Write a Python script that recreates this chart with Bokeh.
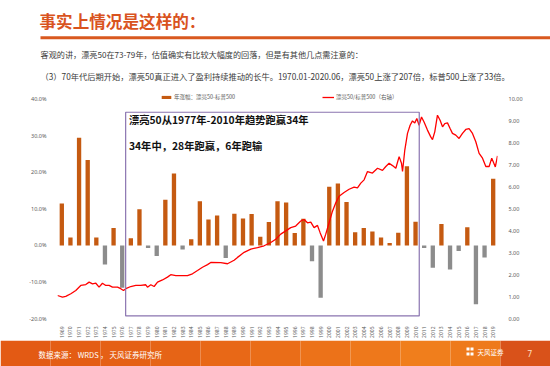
import math
from bokeh.plotting import figure
from bokeh.models import (Range1d, LinearAxis, FixedTicker, PrintfTickFormatter,
                          Legend, LegendItem, BoxAnnotation, Label)
from bokeh.layouts import column
from bokeh.embed import file_html
from bokeh.resources import INLINE
from bokeh.core.properties import value

# ---------------- data ----------------
years = list(range(1969, 2020))
excess_return = [11.5, 2.2, 29.5, 23.4, 2.2, -5.2, 4.8, -11.6, 2.0, 9.9,
                 -0.7, -2.9, 12.5, 19.7, -1.1, 1.7, 12.1, 7.1, 8.2, -3.4,
                 8.7, 7.4, 8.6, 2.4, 6.4, 12.1, 11.8, 3.4, 7.3, -4.3,
                 -14.3, 16.1, 17.0, 11.9, 3.6, 4.8, 3.8, 2.2, 0.7, 3.5,
                 21.7, 6.5, -0.7, -6.1, 5.9, -6.6, -1.5, 5.0, -16.1, -3.3, 18.3]

ratio_dates = [1970.00, 1970.57, 1970.95, 1971.53, 1972.10, 1972.67, 1973.25, 1973.63, 1974.02, 1974.40,
               1974.77, 1975.16, 1975.54, 1975.92, 1976.31, 1976.89, 1977.26, 1977.57, 1977.84, 1978.41,
               1978.99, 1979.56, 1980.13, 1980.33, 1980.71, 1981.09, 1981.48, 1982.05, 1982.62, 1983.00,
               1983.58, 1984.15, 1984.92, 1985.49, 1986.07, 1986.64, 1987.22, 1987.59, 1988.74, 1989.51,
               1990.27, 1990.66, 1991.42, 1992.19, 1992.95, 1993.71, 1994.48, 1995.05, 1995.62, 1996.20,
               1996.77, 1997.34, 1997.92, 1998.30, 1998.69, 1999.07, 1999.45, 1999.84, 2000.14, 2000.53,
               2000.79, 2001.17, 2001.56, 2001.94, 2002.32, 2002.89, 2003.47, 2004.04, 2004.43, 2004.81,
               2005.19, 2005.58, 2006.15, 2006.73, 2007.30, 2007.68, 2008.06, 2008.45, 2008.83, 2009.21,
               2009.48, 2009.60, 2009.86, 2010.17, 2010.47, 2010.74, 2011.01, 2011.24, 2011.50, 2011.78,
               2012.07, 2012.46, 2012.84, 2013.04, 2013.30, 2013.61, 2013.91, 2014.19, 2014.45, 2014.76,
               2015.06, 2015.33, 2015.71, 2016.09, 2016.48, 2016.86, 2017.24, 2017.63, 2018.01, 2018.39,
               2018.78, 2019.16, 2019.54, 2019.84, 2020.08, 2020.25, 2020.50]
ratio_values = [1.05, 0.98, 1.01, 1.13, 1.28, 1.51, 1.55, 1.66, 1.58, 1.61,
                1.43, 1.61, 1.51, 1.51, 1.43, 1.43, 1.36, 1.28, 1.36, 1.46,
                1.51, 1.51, 1.54, 1.43, 1.54, 1.46, 1.66, 1.76, 1.89, 2.00,
                1.96, 1.96, 1.96, 2.04, 2.19, 2.34, 2.46, 2.56, 2.55, 2.50,
                2.66, 2.79, 3.02, 3.17, 3.24, 3.32, 3.47, 3.62, 3.85, 4.00,
                4.15, 4.22, 4.45, 4.52, 4.37, 4.40, 4.15, 4.25, 3.92, 3.54,
                3.85, 4.37, 4.90, 5.28, 5.58, 5.75, 5.90, 6.00, 5.96, 6.18,
                6.33, 6.71, 6.64, 6.86, 6.76, 6.94, 7.09, 6.98, 6.86, 7.39,
                7.09, 6.71, 7.69, 8.45, 8.82, 9.02, 8.93, 9.13, 8.82, 9.20,
                8.97, 8.60, 8.29, 8.17, 8.52, 9.28, 9.05, 8.75, 8.90, 8.93,
                8.67, 8.45, 8.37, 8.22, 8.45, 8.63, 8.67, 8.45, 8.07, 7.54,
                7.32, 6.94, 6.94, 7.32, 7.09, 6.92, 7.42]

left_ticks = [-20, -10, 0, 10, 20, 30, 40]
right_ticks = [0, 1, 2, 3, 4, 5, 6, 7, 8, 9, 10]

title_text = "事实上情况是这样的："
line1_text = "客观的讲，漂亮50在73-79年，估值确实有比较大幅度的回落，但是有其他几点需注意的："
line2_text = "（3）70年代后期开始，漂亮50真正进入了盈利持续推动的长牛。1970.01-2020.06，漂亮50上涨了207倍，标普500上涨了33倍。"
box_line1 = "漂亮50从1977年-2010年趋势跑赢34年"
box_line2 = "34年中，28年跑赢，6年跑输"
legend_bar = "年涨幅：漂亮50-标普500"
legend_line = "漂亮50/标普500（右轴）"
source_text = "数据来源：  WRDS ，  天风证券研究所"

CJK = "Noto Sans CJK SC"
ORANGE = "#C55A11"
GRAY = "#8C8C8C"

# ---------------- top (title + text) ----------------
top = figure(width=550, height=86, x_range=Range1d(0, 550), y_range=Range1d(86, 0),
             toolbar_location=None, output_backend="svg", title=None,
             x_axis_location=None, y_axis_location=None, min_border=0)
top.frame_align = False
top.grid.visible = False
top.outline_line_color = None
top.text(x=[39], y=[20], text=[title_text], text_font=value(CJK), text_font_style="bold",
         text_font_size="16.6px", text_color="#D9531E", text_baseline="middle")
top.quad(left=[40], right=[550], top=[35.8], bottom=[38.8], fill_color="#D9591F", line_color=None)
top.text(x=[40], y=[54], text=[line1_text], text_font=value(CJK), text_font_size="8.15px",
         text_color="#3A3A3A", text_baseline="middle")
top.text(x=[40], y=[75], text=[line2_text], text_font=value(CJK), text_font_size="8.25px",
         text_color="#3A3A3A", text_baseline="middle")

# ---------------- chart ----------------
# frame: x 57..497, y 94..320 (page px)
p = figure(width=550, height=254, x_range=Range1d(1968.5, 2019.5), y_range=Range1d(-20, 41.36),
           toolbar_location=None, output_backend="svg", title=None,
           x_axis_location=None, y_axis_location=None,
           min_border_left=57, min_border_right=53, min_border_top=8, min_border_bottom=20)
p.frame_align = False
p.extra_y_ranges = {"ratio": Range1d(0, 10.226)}
p.grid.visible = False
p.outline_line_color = None

def style_axis(ax):
    ax.axis_line_color = None
    ax.major_tick_line_color = None
    ax.minor_tick_line_color = None
    ax.major_label_text_font_size = "5.5px"
    ax.major_label_text_color = "#595959"
    ax.major_label_text_font = "Noto Sans"

yl = LinearAxis(ticker=FixedTicker(ticks=left_ticks), formatter=PrintfTickFormatter(format="%.1f%%"))
style_axis(yl)
yl.major_label_standoff = 5
p.add_layout(yl, "left")

yr = LinearAxis(y_range_name="ratio", ticker=FixedTicker(ticks=right_ticks),
                formatter=PrintfTickFormatter(format="%.2f"))
style_axis(yr)
yr.major_label_standoff = 5
p.add_layout(yr, "right")

xa = LinearAxis(ticker=FixedTicker(ticks=years), formatter=PrintfTickFormatter(format="%d"),
                major_label_orientation=math.pi / 2)
style_axis(xa)
xa.major_label_text_font_size = "5px"
xa.major_label_standoff = 2
p.add_layout(xa, "below")

bar_colors = [ORANGE if v >= 0 else GRAY for v in excess_return]
bars = p.vbar(x=years, top=excess_return, width=0.5, fill_color=bar_colors, line_color=None)

line_pos = [1968.5 + (d - 1970.0) * 51.0 / 50.5 for d in ratio_dates]
ratio_line = p.line(x=line_pos, y=ratio_values, y_range_name="ratio", line_color="#FF0000", line_width=1.3)

box = BoxAnnotation(left=1976.4, right=2010.43, bottom=-19.3, top=36.5,
                    fill_color=None, fill_alpha=0, line_color="#8A74B0", line_alpha=1.0, line_width=1.2)
p.add_layout(box)

p.add_layout(Label(x=1976.78, y=34.6, text=box_line1, text_font=CJK, text_font_style="bold",
                   text_font_size="10.3px", text_color="#111111", text_baseline="middle"))
p.add_layout(Label(x=1976.78, y=27.5, text=box_line2, text_font=CJK, text_font_style="bold",
                   text_font_size="10.3px", text_color="#111111", text_baseline="middle"))

def make_legend(item, loc, gh):
    lg = Legend(items=[item], location=loc, orientation="horizontal", padding=0, margin=0,
                spacing=0, label_height=8, glyph_height=gh, glyph_width=12, label_standoff=2,
                border_line_color=None, background_fill_alpha=0,
                label_text_font_size="5.5px", label_text_color="#595959", label_text_font=CJK)
    return lg

p.add_layout(make_legend(LegendItem(label=legend_bar, renderers=[bars], index=0), (103, 217), 4))
p.add_layout(make_legend(LegendItem(label=legend_line, renderers=[ratio_line]), (265, 217), 8))

# ---------------- footer ----------------
foot = figure(width=550, height=26, x_range=Range1d(0, 550), y_range=Range1d(366, 340),
              toolbar_location=None, output_backend="svg", title=None,
              x_axis_location=None, y_axis_location=None, min_border=0)
foot.frame_align = False
foot.grid.visible = False
foot.outline_line_color = None
band_edges = list(range(0, 560, 50))
band_cols = ["#E35A14", "#E45D14", "#E56015", "#E66416", "#E86817", "#EA6D18",
             "#EC7219", "#EE781B", "#F07E1C", "#EE7A1C", "#D9521A"]
foot.quad(left=band_edges[:-1] + [512], right=band_edges[1:] + [540],
          top=[340] * 11, bottom=[366] * 11, fill_color=band_cols, line_color=None)
foot.text(x=[38], y=[353.5], text=[source_text], text_font=value(CJK), text_font_size="7.5px",
          text_color="#FFFFFF", text_baseline="middle")
foot.quad(left=[466, 470, 466, 470], right=[469, 473, 469, 473], top=[347, 347, 352, 352],
          bottom=[350, 350, 355, 355], fill_color="#FFFFFF", line_color=None)
foot.text(x=[477], y=[351], text=["天风证券"], text_font=value(CJK), text_font_size="6.5px",
          text_color="#FFFFFF", text_baseline="middle")
foot.text(x=[527], y=[353], text=["7"], text_font=value("Noto Sans"), text_font_size="8px",
          text_color="#FFE3C8", text_baseline="middle")

layout = column(top, p, foot, spacing=0)
open("out.html", "w").write(file_html(layout, INLINE))
